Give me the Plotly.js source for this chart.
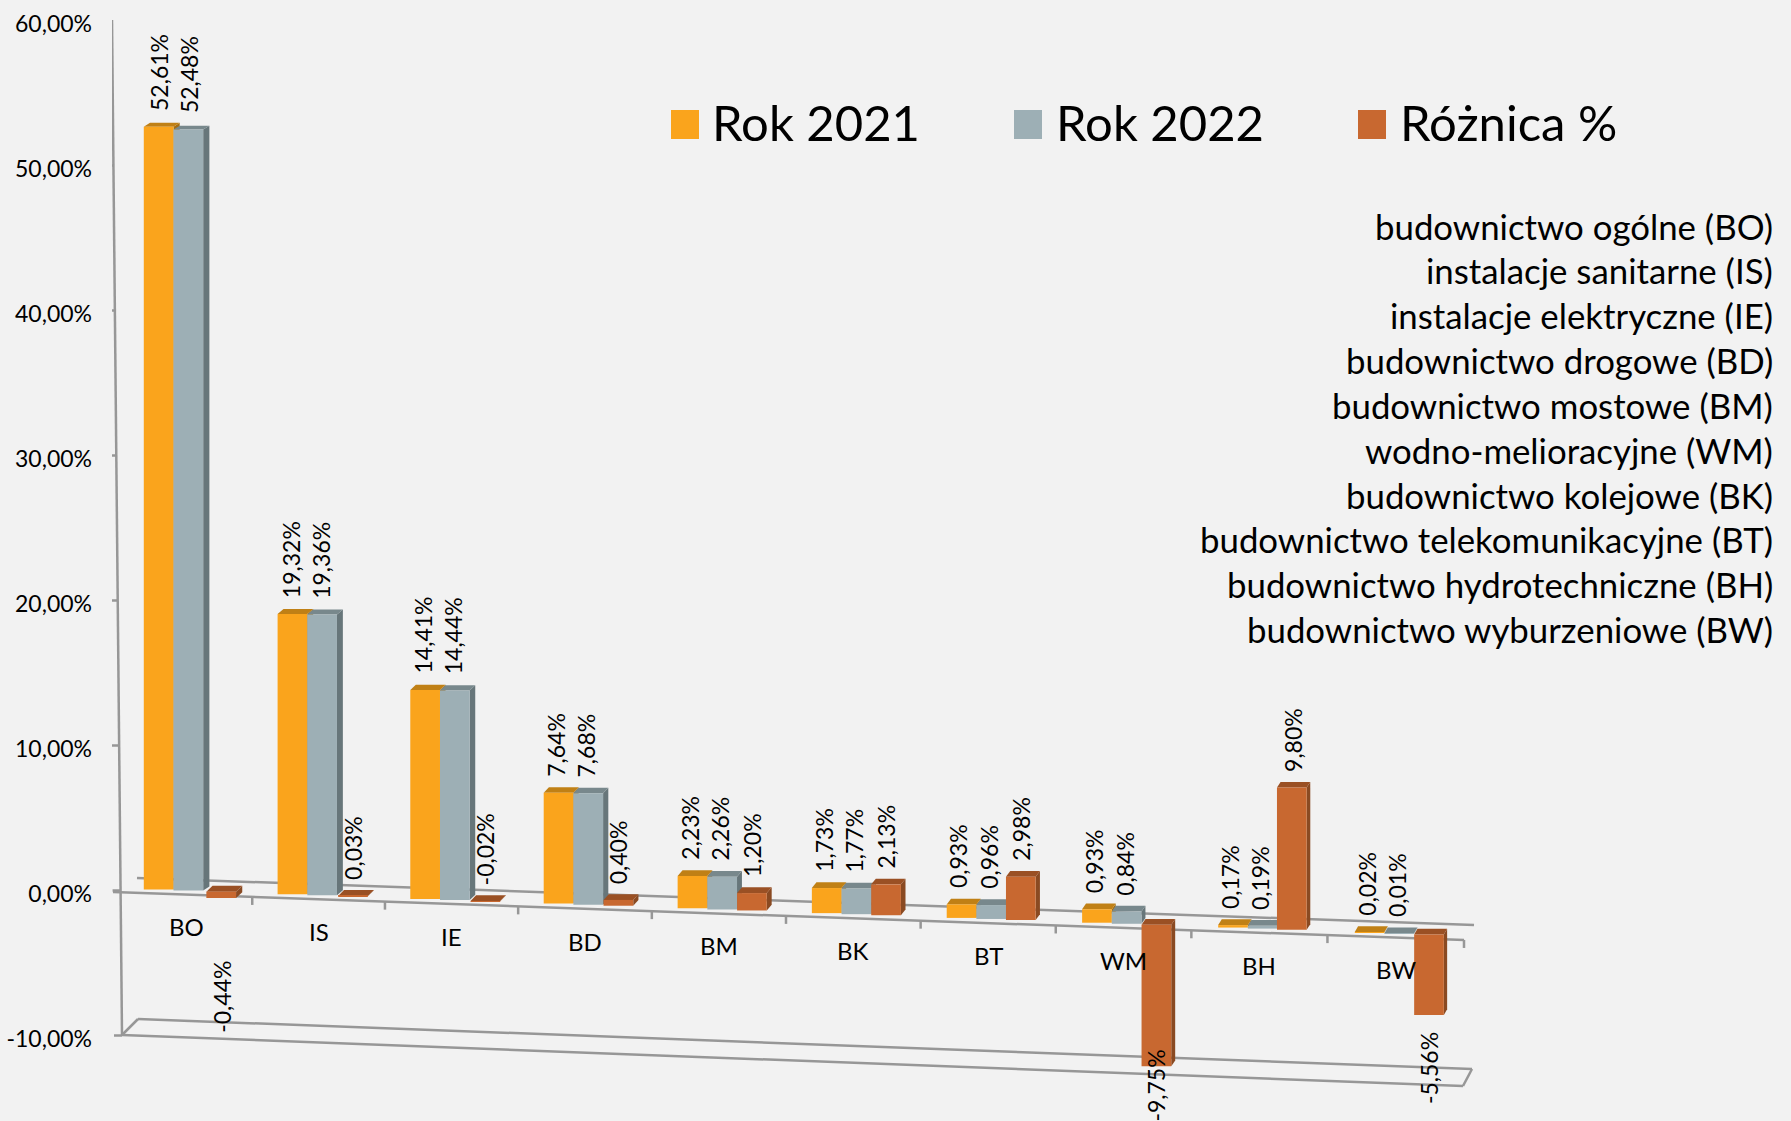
<!DOCTYPE html>
<html lang="pl">
<head>
<meta charset="utf-8">
<script src="https://cdn.plot.ly/plotly-3.0.1.min.js"></script>
<style>html,body{margin:0;padding:0;background:#f2f2f2;overflow:hidden}#chart{width:1791px;height:1121px}</style>
</head>
<body>
<div id="chart"></div>
<script>
// ---------- data ----------
const categories = ['BO','IS','IE','BD','BM','BK','BT','WM','BH','BW'];
const rok2021 = [52.61,19.32,14.41,7.64,2.23,1.73,0.93,0.93,0.17,0.02];
const rok2022 = [52.48,19.36,14.44,7.68,2.26,1.77,0.96,0.84,0.19,0.01];
const roznica = [-0.44,0.03,-0.02,0.40,1.20,2.13,2.98,-9.75,9.80,-5.56];
const seriesNames = ['Rok 2021','Rok 2022','Różnica %'];
const yTickVals = [-10,0,10,20,30,40,50,60];
const yTickText = ['-10,00%','0,00%','10,00%','20,00%','30,00%','40,00%','50,00%','60,00%'];
const descriptions = [
  'budownictwo ogólne (BO)','instalacje sanitarne (IS)','instalacje elektryczne (IE)',
  'budownictwo drogowe (BD)','budownictwo mostowe (BM)','wodno-melioracyjne (WM)',
  'budownictwo kolejowe (BK)','budownictwo telekomunikacyjne (BT)',
  'budownictwo hydrotechniczne (BH)','budownictwo wyburzeniowe (BW)'
];

// ---------- styles ----------
const FONT = 'Lato, "Open Sans", sans-serif';
const front = ['#FAA41C','#9DAFB5','#C86830'];
const topFace = ['#C08015','#78888C','#9A5024'];
const sideFace = ['#A56E12','#67767A','#8A4A22'];
const LINE = '#979797';
const W = 1791, H = 1121, ML = 112;
const PXX = 134, PXY = 14.5, X0 = 191.5, Y0 = 890.5;   // chart scale (pixels per unit)
const BAR = 0.2216, TILT = 0.328, LEAN = 0.0083;

// ---------- projection helpers: pseudo-3D view of the chart ----------
const xd = px => (px - X0) / PXX;
const yd = py => (Y0 - py) / PXY;
const groupPos = t => t * 1.0015 - 0.3 * t * (9 - t) / PXX;  // perspective spacing of groups
const baseAt = x => -0.0055 - TILT * x;                       // tilted floor
const tickPx = j => 120 + 134.4 * j - 0.24 * j * (10 - j);  // floor tick position

const shapes = [];
function line(x0,y0,x1,y1){
  shapes.push({type:'line',xref:'x',yref:'y',layer:'below',x0:xd(x0),y0:yd(y0),x1:xd(x1),y1:yd(y1),
    line:{color:LINE,width:2.5}});
}
// axis frame
line(112,20,122,1035);
yTickVals.forEach(v => { const py = Y0 - v*PXY; const ax = 112 + 10*(py-20)/1015; line(ax-8,py,ax,py); });
line(113,892,1464,940);           // floor front
line(137,878,1474,925);           // floor back
line(122,1035,1463,1086);         // lower plane front
line(138,1019,1472,1069);         // lower plane back
line(122,1035,138,1019);
line(1463,1086,1472,1069);
for (let j=1;j<=10;j++){ const x=tickPx(j), y=892+0.0355*(x-113); line(x,y,x,y+8); }

const series = [rok2021,rok2022,roznica];
const traces = [];
const annotations = [];
const labelXShift = [-3,-2.5,0];
const labelOverride = {'2,0':-68, '2,7':18};  // hand-placed labels of the source (px, top anchored)

series.forEach((vals,k) => {
  const xs0 = categories.map((_,i) => groupPos(i));
  // tall columns lean with the perspective of the view
  const xs = vals.map((v,i) => xs0[i] - LEAN * Math.max(v,0) * PXY / 2 / PXX);
  const bases = xs0.map(x => baseAt(x + (k-1)*BAR));
  traces.push({
    type:'bar', name:seriesNames[k], x:xs, y:vals, base:bases,
    width:BAR, offset:(k-1.5)*BAR, showlegend:false,
    marker:{color:front[k],line:{width:0}},
    customdata:categories, hovertemplate:'%{customdata}: %{y:.2f}%<extra>'+seriesNames[k]+'</extra>'
  });
  vals.forEach((v,i) => {
    const xl = xs[i] + (k-1.5)*BAR, xr = xl + BAR;
    const b = bases[i], topY = Math.max(b, b+v), botY = Math.min(b, b+v);
    const dx = (6.2 - 2.9*i/9) / PXX;
    const dy = (5.8 - 0.035*Math.max(v,0)) / PXY;
    shapes.push({type:'path',xref:'x',yref:'y',layer:'below',line:{width:0},fillcolor:sideFace[k],
      path:`M${xr},${topY}L${xr+dx},${topY+dy}L${xr+dx},${botY+dy}L${xr},${botY}Z`});
    shapes.push({type:'path',xref:'x',yref:'y',layer:'below',line:{width:0},fillcolor:topFace[k],
      path:`M${xl},${topY}L${xr},${topY}L${xr+dx},${topY+dy}L${xl+dx},${topY+dy}Z`});
    const override = labelOverride[k+','+i];
    const below = v < -1;
    const ann = {
      x:xs0[i] + (k-1)*BAR, y: below ? botY : topY, xref:'x', yref:'y', showarrow:false, borderpad:0,
      text:v.toFixed(2).replace('.',',')+'%', textangle:-90, xanchor:'center',
      yanchor: (below || override!==undefined) ? 'top' : 'bottom',
      xshift:labelXShift[k], yshift: below ? -16 : 15,
      font:{family:FONT,size:23,color:'#000'}
    };
    if (override!==undefined) ann.yshift = override;
    annotations.push(ann);
  });
});

// category labels on the tilted floor
categories.forEach((c,j) => {
  const x = tickPx(j+0.5);
  annotations.push({x:xd(x),y:yd(927+0.0355*(x-187)),xref:'x',yref:'y',showarrow:false,borderpad:0,
    text:c,xanchor:'center',yanchor:'middle',font:{family:FONT,size:24,color:'#000'}});
});

// legend band
const legendX = [671,1014,1358];
const legendTextX = [711,1055,1399];
seriesNames.forEach((n,k) => {
  shapes.push({type:'rect',xref:'x',yref:'y',layer:'above',line:{width:0},fillcolor:front[k],
    x0:xd(legendX[k]),x1:xd(legendX[k]+28),y0:yd(110),y1:yd(139)});
  annotations.push({x:xd(legendTextX[k]),y:yd(122),xref:'x',yref:'y',showarrow:false,borderpad:0,
    text:n,xanchor:'left',yanchor:'middle',font:{family:FONT,size:49,color:'#000'}});
});

// description block
descriptions.forEach((d,i) => {
  annotations.push({x:xd(1774),y:yd(226+44.85*i),xref:'x',yref:'y',showarrow:false,borderpad:0,
    text:d,xanchor:'right',yanchor:'middle',font:{family:FONT,size:34.8,color:'#000'}});
});

const layout = {
  width:W, height:H, margin:{l:ML,r:0,t:0,b:0,pad:0},
  paper_bgcolor:'#f2f2f2', plot_bgcolor:'#f2f2f2',
  barmode:'overlay', showlegend:false, hovermode:'closest',
  xaxis:{range:[xd(ML),xd(W)],visible:false,fixedrange:true},
  yaxis:{range:[yd(H),yd(0)],tickmode:'array',tickvals:yTickVals,ticktext:yTickText,
    ticks:'',showgrid:false,zeroline:false,showline:false,fixedrange:true,
    ticklabelstandoff:19,ticklabelshift:3,tickfont:{family:FONT,size:23,color:'#000'}},
  shapes, annotations
};
Plotly.newPlot('chart',traces,layout,{displayModeBar:false,responsive:false});
</script>
</body>
</html>
